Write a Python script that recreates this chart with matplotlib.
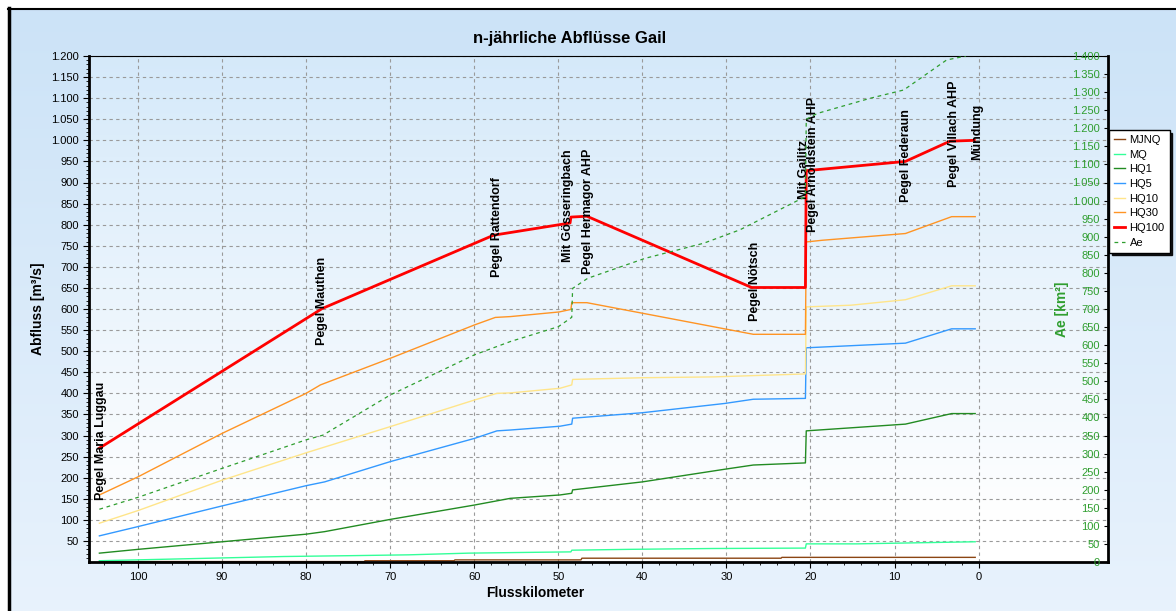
import numpy as np
import matplotlib
matplotlib.use("Agg")
import matplotlib.pyplot as plt
from matplotlib.ticker import FixedLocator, FuncFormatter

plt.rcParams['font.family'] = ['Liberation Sans', 'DejaVu Sans']

# --- data (Flusskilometer / Abfluss m3/s, Ae km2) ---
mjnq_km = [104.6, 73.1, 73.0, 62.4, 62.3, 47.3, 47.2, 23.5, 23.4, 0.4]
mjnq = [1, 1, 3, 3, 5, 5, 9, 9, 11, 11]

mq_km = [104.6, 91.4, 82.7, 74.8, 67.8, 60.7, 52.7, 48.5, 48.4, 41.6, 31.7, 20.6, 20.5, 14.5, 6.0, 0.4]
mq = [3, 9, 13, 15, 17, 21, 23, 24, 28, 30, 32, 33, 43, 43, 46, 48]

hq1_km = [104.6, 100, 90, 80, 77.8, 70, 60, 55.7, 49.8, 48.4, 48.3, 40, 30.2, 26.8, 20.6, 20.5, 8.7, 3.2, 0.4]
hq1 = [21, 30, 48, 66, 72, 101, 135, 151, 159, 163, 171, 190, 220, 230, 235, 311, 327, 352, 352]

hq5_km = [104.6, 100, 90, 80, 77.8, 70, 60, 57.3, 55.7, 49.8, 48.4, 48.3, 40, 30.2, 26.8, 20.6, 20.5, 8.7, 3.2, 0.4]
hq5 = [62, 84, 133, 181, 190, 238, 293, 311, 313, 322, 327, 341, 354, 376, 386, 388, 508, 519, 553, 553]

hq10_km = [104.6, 100, 90, 80, 70, 60, 57.3, 55.7, 49.8, 48.4, 48.3, 40, 31.5, 20.6, 20.5, 15.2, 8.7, 3.2, 0.4]
hq10 = [92, 122, 194, 259, 321, 384, 400, 401, 412, 420, 433, 437, 439, 446, 605, 609, 622, 655, 655]

hq30_km = [104.6, 100, 90, 80, 78.3, 70, 60, 57.5, 55.7, 49.9, 48.5, 48.4, 46.6, 26.8, 20.6, 20.5, 18.6, 8.7, 3.2, 0.4]
hq30 = [159, 202, 305, 400, 420, 483, 562, 580, 582, 593, 599, 615, 615, 540, 540, 759, 763, 779, 819, 819]

hq100_km = [104.6, 78.1, 57.7, 48.6, 48.5, 46.6, 27.0, 20.6, 20.5, 8.7, 3.4, 0.5]
hq100 = [270, 601, 775, 804, 818, 820, 651, 651, 928, 950, 998, 1000]

ae_km = [104.6, 100, 90, 80, 78, 70, 60, 55.7, 50, 48.4, 48.3, 46.5, 39.7, 32.7, 28.4,
         20.6, 20.5, 19.2, 12.9, 8.9, 3.8, 1.5]
ae = [146, 179, 259, 338, 351, 462, 573, 610, 651, 677, 757, 785, 840, 882, 919,
      1011, 1225, 1241, 1283, 1306, 1389, 1400]

stations = ["Pegel Maria Luggau", "Pegel Mauthen", "Pegel Rattendorf", "Mit Gösseringbach",
            "Pegel Hermagor AHP", "Pegel Nötsch", "Mit Gailitz", "Pegel Arnoldstein AHP",
            "Pegel Federaun", "Pegel Villach AHP", "Mündung"]
station_km = [104.4, 78.1, 57.3, 48.9, 46.5, 26.6, 20.8, 19.7, 8.6, 2.9, 0.2]
station_q = [147, 515, 677, 712, 684, 572, 862, 783, 854, 890, 953]

W, H = 1176, 611
fig = plt.figure(figsize=(W / 100, H / 100), dpi=100)
fig.patch.set_facecolor('white')

# background: figure gradient, plot-area gradient, black frame
bg = fig.add_axes([0, 0, 1, 1], zorder=-5)
g = np.linspace(0, 1, 256)[:, None, None]
top_c = np.array([0.80, 0.89, 0.97])
bot_c = np.array([0.91, 0.95, 0.99])
bg.imshow(top_c + (bot_c - top_c) * g, extent=[9, W, H, 9], aspect='auto')
t = np.clip(np.linspace(0, 1, 256) / 0.92, 0, 1)[:, None, None]
pa_top = np.array([0.835, 0.915, 0.98])
bg.imshow(pa_top + (1 - pa_top) * t, extent=[89, 1108, 562, 56], aspect='auto')
bg.plot([8.5, 8.5], [8, H], color='black', lw=2.5)
bg.plot([8, W], [8.5, 8.5], color='black', lw=1.5)
bg.set_xlim(0, W)
bg.set_ylim(H, 0)
bg.axis('off')

ax = fig.add_axes([89.3 / W, 1 - 562 / H, (1108 - 89.3) / W, (562 - 56) / H])
ax.patch.set_visible(False)
ax2 = ax.twinx()
ax2.patch.set_visible(False)

ax.plot(mjnq_km, mjnq, color='#8b4513', lw=1, label='MJNQ')
ax.plot(mq_km, mq, color='#33ff99', lw=1, label='MQ')
ax.plot(hq1_km, hq1, color='#228b22', lw=1, label='HQ1')
ax.plot(hq5_km, hq5, color='#3399ff', lw=1, label='HQ5')
ax.plot(hq10_km, hq10, color='#ffe58a', lw=1, label='HQ10')
ax.plot(hq30_km, hq30, color='#ff9424', lw=1, label='HQ30')
ax.plot(hq100_km, hq100, color='#ff0000', lw=2, label='HQ100', zorder=4)
ax2.plot(ae_km, ae, color='#2f9e2f', lw=0.9, ls=(0, (3, 3)), label='Ae')

for name, k, q in zip(stations, station_km, station_q):
    ax.text(k, q, name, rotation=90, ha='center', va='bottom',
            fontsize=9, fontweight='bold', zorder=6)

fmt = FuncFormatter(lambda v, p: f"{int(round(v)):,}".replace(",", "."))
ax.set_xlim(105.8, -15.4)
ax.set_ylim(0, 1200)
ax2.set_ylim(0, 1400)
ax.xaxis.set_major_locator(FixedLocator(range(0, 101, 10)))
ax.xaxis.set_minor_locator(FixedLocator(range(0, 105, 2)))
ax.yaxis.set_major_locator(FixedLocator(range(50, 1201, 50)))
ax.yaxis.set_minor_locator(FixedLocator(range(10, 1200, 10)))
ax.yaxis.set_major_formatter(fmt)
ax2.yaxis.set_major_locator(FixedLocator(range(0, 1401, 50)))
ax2.yaxis.set_major_formatter(fmt)

ax.grid(True, which='major', color='#9a9a9a', ls=(0, (3, 3)), lw=0.8)
ax.tick_params(which='major', labelsize=8, length=4, width=0.8)
ax.tick_params(which='minor', length=2, width=0.6)
ax2.tick_params(axis='y', which='major', direction='in', length=3, width=0.8,
                labelsize=8, labelcolor='#2f9e2f', pad=-6)
plt.setp(ax2.get_yticklabels(), ha='right')

ax.spines['left'].set_linewidth(2)
ax.spines['bottom'].set_linewidth(2)
ax.spines['top'].set_linewidth(0.8)
ax.spines['right'].set_visible(False)
for s in ['left', 'bottom', 'top']:
    ax2.spines[s].set_visible(False)
ax2.spines['right'].set_linewidth(2)

ax.set_ylabel("Abfluss [m³/s]", fontsize=10, fontweight='bold')
ax.yaxis.set_label_coords(-0.043, 0.5)
ax2.set_ylabel("Ae [km²]", fontsize=10, fontweight='bold', color='#2f9e2f')
ax2.yaxis.set_label_coords(0.948, 0.5)
ax.set_xlabel("Flusskilometer", fontsize=10, fontweight='bold')
ax.xaxis.set_label_coords(0.4375, -0.047)

fig.text(570 / W, 1 - 38 / H, "n-jährliche Abflüsse Gail", ha='center', va='center',
         fontsize=12, fontweight='bold')

h1, l1 = ax.get_legend_handles_labels()
h2, l2 = ax2.get_legend_handles_labels()
leg = fig.legend(h1 + h2, l1 + l2, loc='upper left', bbox_to_anchor=(1109 / W, 1 - 130 / H),
                 fontsize=8, fancybox=False, edgecolor='black', framealpha=1,
                 borderpad=0.45, labelspacing=0.42, handlelength=1.0, handletextpad=0.4,
                 borderaxespad=0, shadow={'color': 'black', 'alpha': 0.9})
leg.get_frame().set_linewidth(1.0)

fig.savefig('out.png', dpi=100)
